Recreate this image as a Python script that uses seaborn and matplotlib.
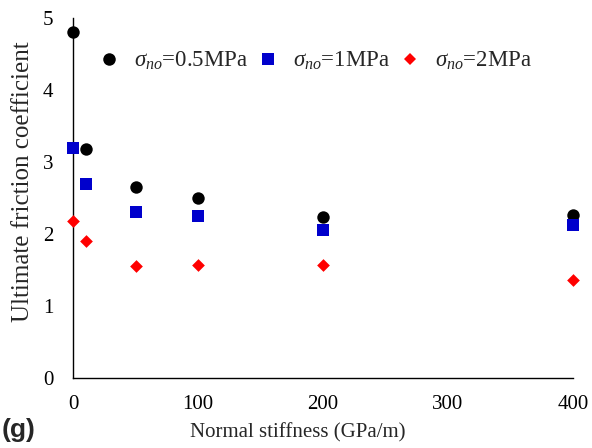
import matplotlib
matplotlib.use("Agg")
import matplotlib.pyplot as plt
import seaborn as sns
import pandas as pd
from matplotlib.lines import Line2D

stiffness = [0, 10, 50, 100, 200, 400]
mu_05 = [4.80, 3.18, 2.65, 2.50, 2.24, 2.27]
mu_1 = [3.20, 2.69, 2.31, 2.25, 2.06, 2.13]
mu_2 = [2.18, 1.90, 1.56, 1.57, 1.57, 1.36]
series_labels = [r'$\sigma_{no}$=0.5MPa', r'$\sigma_{no}$=1MPa', r'$\sigma_{no}$=2MPa']
x_ticks = [0, 100, 200, 300, 400]
y_ticks = [0, 1, 2, 3, 4, 5]

sns.set_theme(style="white")
plt.rcParams['font.family'] = ['Liberation Serif', 'DejaVu Serif']
plt.rcParams['mathtext.fontset'] = 'custom'
plt.rcParams['mathtext.rm'] = 'Liberation Serif'
plt.rcParams['mathtext.it'] = 'Liberation Serif:italic'

df = pd.DataFrame({
    'x': stiffness * 3,
    'y': mu_05 + mu_1 + mu_2,
    'series': [series_labels[0]] * 6 + [series_labels[1]] * 6 + [series_labels[2]] * 6,
})

fig = plt.figure(figsize=(5.92, 4.48), dpi=100)
ax = fig.add_axes([73 / 592, 70 / 448, 500 / 592, 360 / 448])

colors = ['#000000', '#0000CC', '#FF0000']
markers = ['o', 's', 'D']
sizes = [80, 75, 42]
for lab, c, m, s in zip(series_labels, colors, markers, sizes):
    sns.scatterplot(data=df[df['series'] == lab], x='x', y='y', color=c, marker=m,
                    s=s, linewidth=0, ax=ax, clip_on=False, zorder=3, label=lab)

ax.set_xlim(0, 400)
ax.set_ylim(0, 5)
ax.set_xticks(x_ticks)
ax.set_yticks(y_ticks)
ax.set_xticklabels([str(t) for t in x_ticks])
ax.set_yticklabels([str(t) for t in y_ticks])
for sp in ['top', 'right']:
    ax.spines[sp].set_visible(False)
for sp in ['left', 'bottom']:
    ax.spines[sp].set_color('black')
    ax.spines[sp].set_linewidth(1.0)
ax.tick_params(axis='both', direction='in', length=5, width=1, color='black',
               labelsize=15, colors='black')
ax.tick_params(axis='y', pad=14)
ax.tick_params(axis='x', pad=12)
ax.set_xlabel('Normal stiffness (GPa/m)', fontsize=15)
ax.xaxis.set_label_coords(0.45, -0.125)
ax.set_ylabel('Ultimate friction coefficient', fontsize=18)
ax.yaxis.set_label_coords(-0.078, 0.545)

handles = [Line2D([], [], linestyle='none', marker=m, color=c, markersize=ms, markeredgewidth=0)
           for c, m, ms in zip(colors, markers, [9, 8.5, 6.5])]
ax.legend(handles, series_labels, ncol=3, frameon=False, fontsize=16.5,
          loc='center', bbox_to_anchor=(0.484, 0.88), handletextpad=0.6,
          columnspacing=0.35, handlelength=1.0)

fig.text(0.003, 0.025, '(g)', fontsize=19, fontweight='bold', family='Liberation Sans')

fig.savefig('out.png', dpi=100)
